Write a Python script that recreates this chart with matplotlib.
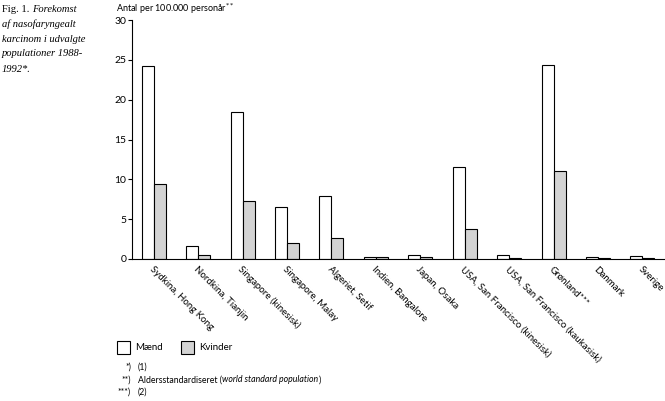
import numpy as np
from matplotlib import pyplot as plt
from matplotlib.patches import Rectangle

# data
categories = ['Sydkina, Hong Kong', 'Nordkina, Tianjin', 'Singapore (kinesisk)',
              'Singapore, Malay', 'Algeriet, Setif', 'Indien, Bangalore',
              'Japan, Osaka', 'USA, San Francisco (kinesisk)',
              'USA, San Francisco (kaukasisk)', 'Grønland***', 'Danmark', 'Sverige']
maend = [24.2, 1.6, 18.4, 6.5, 7.9, 0.3, 0.5, 11.5, 0.5, 24.4, 0.3, 0.4]
kvinder = [9.4, 0.5, 7.3, 2.0, 2.6, 0.3, 0.2, 3.8, 0.1, 11.0, 0.1, 0.15]
yticks = [0, 5, 10, 15, 20, 25, 30]

sans = 'Lato'
serif = 'Liberation Serif'
W, H = 665, 401

def fx(px):
    return px / W

def fy(py):
    return 1 - py / H

fig = plt.figure(figsize=(6.65, 4.01), dpi=100)
ax = fig.add_axes([fx(132), fy(259), 533 / W, 239 / H])

x = np.arange(len(categories))
w = 0.27
ax.bar(x - 0.28, maend, width=w, align='edge', color='white',
       edgecolor='black', linewidth=0.8)
ax.bar(x - 0.28 + w, kvinder, width=w, align='edge', color='#d3d3d3',
       edgecolor='black', linewidth=0.8)

ax.set_xlim(-0.5, len(categories) - 0.5)
ax.set_ylim(0, 30)
ax.set_yticks(yticks)
ax.set_yticklabels([str(t) for t in yticks], fontsize=7.5, family=sans)
ax.tick_params(axis='y', length=3, width=0.8, pad=1)
ax.set_xticks(x)
ax.set_xticklabels(categories, rotation=-45, ha='left', va='top',
                   rotation_mode='anchor', fontsize=7, family=sans)
ax.tick_params(axis='x', length=0, pad=4)
for s in ['top', 'right']:
    ax.spines[s].set_visible(False)
ax.spines['left'].set_linewidth(0.8)
ax.spines['bottom'].set_linewidth(0.8)

# y label at the top
fig.text(fx(116), fy(9), 'Antal per 100.000 personår$^{**}$',
         fontsize=6.5, family=sans, va='center', ha='left')

# caption, "Fig. 1." upright, the rest italic
cap_size = 7.6
t0 = fig.text(fx(2), fy(9), 'Fig. 1. ', fontsize=cap_size, family=serif,
              va='center', ha='left')
fig.canvas.draw()
bb = t0.get_window_extent()
fig.text(bb.x1 / W, fy(9), 'Forekomst', fontsize=cap_size, family=serif,
         style='italic', va='center', ha='left')
cap_lines = ['af nasofaryngealt', 'karcinom i udvalgte',
             'populationer 1988-', '1992*.']
for i, line in enumerate(cap_lines):
    fig.text(fx(2), fy(24 + 15 * i), line, fontsize=cap_size,
             family=serif, style='italic', va='center', ha='left')

# legend
for xl, col, lab in [(117, 'white', 'Mænd'), (181, '#d3d3d3', 'Kvinder')]:
    fig.patches.append(Rectangle((fx(xl), fy(354)), 13 / W, 13 / H,
                                 transform=fig.transFigure, facecolor=col,
                                 edgecolor='black', linewidth=0.8))
    fig.text(fx(xl + 18), fy(348), lab, fontsize=7, family=sans,
             va='center', ha='left')

# footnotes
fs = 6.3
notes = [('*)', '(1)', 367), ('**)', 'Aldersstandardiseret (', 380),
         ('***)', '(2)', 392)]
note_texts = []
for mark, txt, yy in notes:
    fig.text(fx(131), fy(yy), mark, fontsize=fs, family=sans,
             va='center', ha='right')
    note_texts.append(fig.text(fx(138), fy(yy), txt, fontsize=fs, family=sans,
                               va='center', ha='left'))
fig.canvas.draw()
bb = note_texts[1].get_window_extent()
t_it = fig.text(bb.x1 / W, fy(380), 'world standard population', fontsize=fs,
                family=sans, style='italic', va='center', ha='left')
fig.canvas.draw()
bb = t_it.get_window_extent()
fig.text((bb.x1 + 1) / W, fy(380), ')', fontsize=fs, family=sans,
         va='center', ha='left')

fig.savefig('out.png', dpi=100)
